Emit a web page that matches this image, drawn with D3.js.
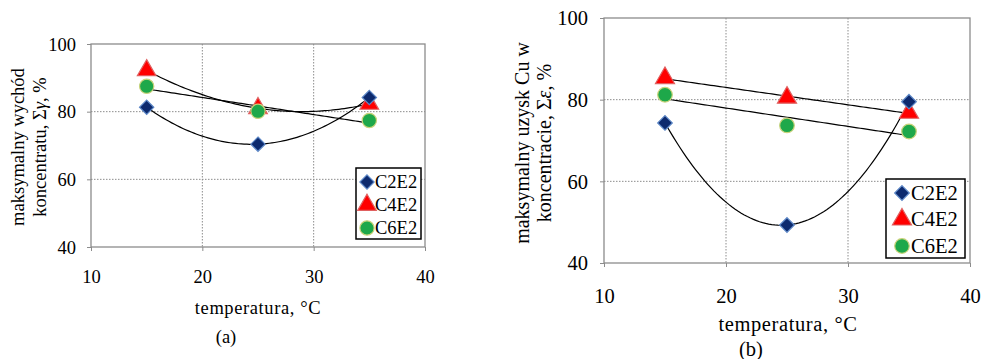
<!DOCTYPE html>
<html>
<head>
<meta charset="utf-8">
<script src="https://cdn.jsdelivr.net/npm/d3@7"></script>
<style>
  body { margin: 0; background: #fff; }
</style>
</head>
<body>
<svg id="chart" width="983" height="359"></svg>
<script>
// temperatures, °C
const temps = [15, 25, 35];
const seriesNames = ['C2E2', 'C4E2', 'C6E2'];

// (a) maximum concentrate yield, %
const yieldC2E2 = [81.3, 70.4, 84.2];
const yieldC4E2 = [92.2, 81.0, 82.3];
const yieldC6E2 = [87.5, 80.1, 77.4];

// (b) maximum Cu recovery, %
const recC2E2 = [74.3, 49.3, 79.5];
const recC4E2 = [85.3, 80.5, 76.8];
const recC6E2 = [81.2, 73.7, 72.2];

const xTicks = [10, 20, 30, 40];
const yTicks = [40, 60, 80, 100];

const serif = "'Liberation Serif', serif";
const svg = d3.select('#chart');

// least-squares quadratic (Excel order-2 trendline)
function quadFit(xs, ys) {
  const n = xs.length;
  let s = Array(5).fill(0), t = Array(3).fill(0);
  for (let i = 0; i < n; i++) {
    for (let k = 0; k < 5; k++) s[k] += Math.pow(xs[i], k);
    for (let k = 0; k < 3; k++) t[k] += ys[i] * Math.pow(xs[i], k);
  }
  const A = [[s[0], s[1], s[2], t[0]], [s[1], s[2], s[3], t[1]], [s[2], s[3], s[4], t[2]]];
  for (let i = 0; i < 3; i++) {
    for (let j = i + 1; j < 3; j++) {
      const f = A[j][i] / A[i][i];
      for (let k = i; k < 4; k++) A[j][k] -= f * A[i][k];
    }
  }
  const c = [0, 0, 0];
  for (let i = 2; i >= 0; i--) {
    let v = A[i][3];
    for (let k = i + 1; k < 3; k++) v -= A[i][k] * c[k];
    c[i] = v / A[i][i];
  }
  return x => c[0] + c[1] * x + c[2] * x * x;
}

function linFit(xs, ys) {
  const mx = d3.mean(xs), my = d3.mean(ys);
  const b = d3.sum(xs, (x, i) => (x - mx) * (ys[i] - my)) / d3.sum(xs, x => (x - mx) * (x - mx));
  return x => my + b * (x - mx);
}

function txt(sel, size) {
  return sel.style('font-family', serif).style('font-size', size + 'px').style('fill', '#000');
}

function drawPanel(p) {
  const g = svg.append('g');
  const x = d3.scaleLinear().domain([10, 40]).range([p.left, p.right]);
  const y = d3.scaleLinear().domain([40, 100]).range([p.bottom, p.top]);

  // grid
  g.selectAll('.gx').data([20, 30]).join('line')
    .attr('x1', d => x(d)).attr('x2', d => x(d)).attr('y1', p.top).attr('y2', p.bottom)
    .attr('stroke', '#8c8c8c').attr('stroke-dasharray', '1.5,1.5');
  g.selectAll('.gy').data([60, 80]).join('line')
    .attr('y1', d => y(d)).attr('y2', d => y(d)).attr('x1', p.left).attr('x2', p.right)
    .attr('stroke', '#8c8c8c').attr('stroke-dasharray', '1.5,1.5');

  // frame
  g.append('rect').attr('x', p.left).attr('y', p.top)
    .attr('width', p.right - p.left).attr('height', p.bottom - p.top)
    .attr('fill', 'none').attr('stroke', '#8c8c8c').attr('stroke-width', 1.3);

  // axes (baseline set directly, no dy)
  const ax = g.append('g').attr('transform', `translate(0,${p.bottom})`)
    .call(d3.axisBottom(x).tickValues(xTicks).tickSize(4).tickSizeOuter(0));
  const ay = g.append('g').attr('transform', `translate(${p.left},0)`)
    .call(d3.axisLeft(y).tickValues(yTicks).tickSize(4).tickSizeOuter(0));
  [ax, ay].forEach(a => {
    a.attr('font-family', null).attr('font-size', null);
    a.select('.domain').remove();
    a.selectAll('line').attr('stroke', '#8c8c8c');
    txt(a.selectAll('text'), p.fs).attr('dy', null);
  });
  ax.selectAll('text').attr('y', p.xBase);
  ay.selectAll('text').attr('x', -p.yPad).attr('y', p.fs * 0.33);

  // trendlines
  const line = d3.line().x(d => x(d[0])).y(d => y(d[1]));
  p.series.forEach((s, i) => {
    const f = p.fits[i] === 'quad' ? quadFit(temps, s) : linFit(temps, s);
    const pts = d3.range(15, 35.01, 0.25).map(t => [t, f(t)]);
    g.append('path').attr('d', line(pts)).attr('fill', 'none').attr('stroke', '#000').attr('stroke-width', 1.2);
  });

  // markers: triangles below circles, diamonds on top
  const sym = [d3.symbolDiamond2, d3.symbolTriangle, d3.symbolCircle];
  const fills = ['#0d2a6e', '#ff0000', '#1ea84a'];
  const strokes = ['#5b86c6', '#e06060', '#c9d37a'];
  const sizes = [130, 150, 160];
  function marker(sel, k) {
    sel.append('path')
      .attr('d', d3.symbol().type(sym[k]).size(sizes[k] * p.ms))
      .attr('fill', fills[k]).attr('stroke', strokes[k]).attr('stroke-width', 1.2);
  }
  [1, 2, 0].forEach(k => {
    p.series[k].forEach((v, i) => {
      const m = g.append('g').attr('transform', `translate(${x(temps[i])},${y(v)})`);
      marker(m, k);
    });
  });

  // legend
  const L = p.legend;
  g.append('rect').attr('x', L.x).attr('y', L.y).attr('width', L.w).attr('height', L.h)
    .attr('fill', '#fff').attr('stroke', '#000').attr('stroke-width', 1.5);
  seriesNames.forEach((n, k) => {
    const cy = L.y + L.first + k * L.step;
    const m = g.append('g').attr('transform', `translate(${L.x + L.mx},${cy})`);
    marker(m, k);
    txt(g.append('text'), p.fs).attr('x', L.x + L.tx).attr('y', cy + p.fs * 0.34).text(n);
  });

  // y title, one text per line
  txt(g.append('text'), p.yfs)
    .attr('transform', `translate(${p.ytX},${p.ytY}) rotate(-90)`)
    .attr('text-anchor', 'middle').text(p.ytitle[0]);
  const t2 = txt(g.append('text'), p.yfs)
    .attr('transform', `translate(${p.ytX + p.lineH},${p.ytY}) rotate(-90)`)
    .attr('text-anchor', 'middle');
  t2.append('tspan').text(p.ytitle[1]);
  t2.append('tspan').style('font-style', 'italic').text(p.ytitle[2]);
  t2.append('tspan').text(', %');

  // x title and panel label
  txt(g.append('text'), p.tfs).attr('x', p.xtX).attr('y', p.xtY).attr('text-anchor', 'middle')
    .style('letter-spacing', p.ls + 'px').text('temperatura, °C');
  txt(g.append('text'), p.tfs).attr('x', p.labX).attr('y', p.labY).attr('text-anchor', 'middle')
    .text(p.label);
}

drawPanel({
  left: 91, right: 425, top: 44, bottom: 247,
  series: [yieldC2E2, yieldC4E2, yieldC6E2], fits: ['quad', 'quad', 'lin'],
  fs: 18.5, tfs: 18.5, yfs: 18.5, ls: 0.6, ms: 1, xBase: 36, yPad: 15, lineH: 22,
  legend: { x: 356, y: 168, w: 65, h: 71, first: 14, step: 23, mx: 11, tx: 19 },
  ytitle: ['maksymalny wychód', 'koncentratu, Σ', 'γ'],
  ytX: 24, ytY: 147, xtX: 258, xtY: 314, labX: 226, labY: 343, label: '(a)'
});

drawPanel({
  left: 604, right: 970, top: 18, bottom: 263,
  series: [recC2E2, recC4E2, recC6E2], fits: ['quad', 'lin', 'lin'],
  fs: 20.5, tfs: 20.5, yfs: 20, ls: 0.6, ms: 1.05, xBase: 40, yPad: 16, lineH: 22,
  legend: { x: 886, y: 179, w: 79, h: 79, first: 14, step: 26.5, mx: 16, tx: 25 },
  ytitle: ['maksymalny uzysk Cu w', 'koncentracie, Σ', 'ε'],
  ytX: 529, ytY: 143, xtX: 788, xtY: 331, labX: 751, labY: 356, label: '(b)'
});
</script>
</body>
</html>
